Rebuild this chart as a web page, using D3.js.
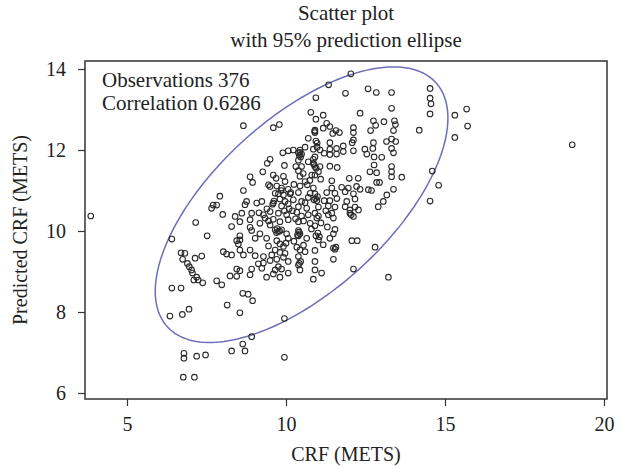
<!DOCTYPE html>
<html><head><meta charset="utf-8">
<script src="https://cdn.jsdelivr.net/npm/d3@7"></script>
<style>body{margin:0;background:#fff}svg{display:block}text{font-family:"Liberation Serif","Times New Roman",serif;fill:#222}</style>
</head><body><svg id="c" width="621" height="468"></svg>
<script>
const titleLines = ["Scatter plot", "with 95% prediction ellipse"];
const legendLines = ["Observations 376", "Correlation 0.6286"];
const xLabel = "CRF (METS)";
const yLabel = "Predicted CRF (METS)";
const xTicks = [5, 10, 15, 20];
const yTicks = [6, 8, 10, 12, 14];
const ellipseCenter = [10.49, 10.65];
const ellipseSD = [1.88, 1.39];
const correlation = 0.6286;
const observations = [
[12.04,13.88],[11.34,13.61],[10.94,13.29],[11.87,13.40],[12.58,13.51],[12.84,13.42],[13.32,13.42],[13.32,13.03],[12.33,12.91],[10.78,12.93],
[11.17,12.86],[10.94,12.76],[8.66,12.60],[9.60,12.55],[9.79,12.63],[11.28,12.66],[11.38,12.58],[11.57,12.48],[11.68,12.43],[10.91,12.49],
[10.91,12.43],[11.17,12.54],[11.47,12.41],[12.12,12.55],[12.12,12.43],[12.75,12.72],[12.82,12.61],[12.66,12.48],[13.08,12.70],[13.41,12.72],
[13.44,12.63],[13.38,12.48],[14.19,12.49],[13.32,12.27],[13.45,12.21],[13.16,12.21],[13.32,12.04],[13.38,11.93],[12.75,12.18],[12.48,12.02],
[12.73,12.04],[12.54,11.90],[12.77,11.83],[13.01,11.82],[12.12,12.25],[12.08,12.18],[12.12,11.98],[11.80,12.10],[11.80,11.96],[11.38,12.18],
[11.38,12.02],[11.38,11.89],[11.59,12.04],[11.59,11.90],[11.20,11.92],[11.07,12.00],[10.94,12.22],[10.98,12.17],[10.98,12.07],[10.86,12.02],
[10.91,11.83],[10.70,12.29],[10.60,12.07],[10.44,12.00],[10.39,11.93],[10.49,11.90],[10.46,11.83],[10.39,11.75],[10.23,12.00],[10.07,11.98],
[9.90,11.93],[9.50,11.77],[9.41,11.67],[9.27,11.46],[9.95,11.62],[10.31,11.59],[10.39,11.49],[10.49,11.59],[10.54,11.42],[10.70,11.71],
[10.86,11.77],[10.86,11.67],[10.91,11.59],[11.07,11.59],[11.02,11.46],[10.81,11.38],[10.91,11.38],[11.38,11.60],[11.61,11.57],[11.99,11.30],
[12.27,11.30],[12.77,11.63],[12.64,11.46],[13.32,11.59],[13.32,11.46],[13.32,11.34],[13.64,11.33],[8.87,11.34],[9.60,11.38],[9.69,11.30],
[14.53,13.52],[14.53,13.28],[14.56,13.14],[14.53,12.89],[15.31,12.86],[15.68,13.01],[15.71,12.59],[15.31,12.31],[19.00,12.13],[14.60,11.48],
[14.80,11.13],[14.53,10.74],
[3.86,10.37],[7.92,10.86],[7.71,10.64],[7.66,10.56],[7.82,10.64],[8.01,10.41],[7.16,10.21],[7.52,9.88],[6.41,9.80],[6.70,9.46],
[6.82,9.45],[6.75,9.30],[7.14,9.33],[7.35,9.38],[8.03,9.49],[8.13,9.43],[6.90,9.20],[6.96,9.12],[7.03,9.04],[7.06,8.96],
[7.19,8.86],[7.10,8.79],[7.24,8.79],[7.38,8.72],[7.82,8.77],[7.98,8.67],[6.41,8.59],[6.70,8.59],
[8.64,8.46],[8.81,8.44],[8.15,8.17],[8.55,7.98],[6.35,7.90],[6.74,7.94],[6.95,8.07],[6.79,6.98],[6.79,6.86],[7.19,6.91],
[7.47,6.94],[8.29,7.04],[8.64,7.21],[8.71,7.04],[6.77,6.39],[7.12,6.39],
[8.95,8.28],[9.95,7.84],[8.92,7.39],[9.95,6.88],
[12.85,11.44],[9.92,11.35],[10.44,11.35],[8.95,11.20],[9.97,11.22],[10.60,11.22],[11.09,11.28],[11.44,11.24],[12.85,11.20],[12.94,11.20],[9.45,11.14],
[8.66,11.00],[9.50,11.10],[9.71,11.11],[9.86,11.06],[10.07,11.03],[10.44,11.11],[10.67,11.14],[10.86,11.06],[11.44,11.06],[11.75,11.08],
[11.96,11.06],[12.22,11.10],[12.33,11.03],[12.59,11.02],[12.69,11.00],[13.38,11.03],
[9.66,10.93],[9.76,10.92],[9.92,10.89],[10.13,10.92],[10.39,10.95],[10.76,10.93],[10.91,10.92],[10.99,10.85],[11.28,10.95],[11.54,10.93],
[11.86,10.97],[12.12,10.92],[12.17,10.79],[13.17,10.89],
[8.76,10.73],[9.24,10.73],[9.08,10.69],[9.81,10.79],[9.97,10.73],[10.23,10.77],[10.49,10.73],[10.70,10.83],[10.97,10.75],[11.38,10.75],
[11.91,10.73],[13.06,10.73],[12.90,10.60],
[8.71,10.65],[9.60,10.69],[9.86,10.62],[10.07,10.67],[10.39,10.60],[10.65,10.56],[11.02,10.59],[11.33,10.62],[11.54,10.59],[11.86,10.60],
[12.01,10.52],[12.17,10.59],[12.28,10.52],
[8.40,10.36],[8.61,10.44],[8.92,10.44],[9.29,10.40],[9.50,10.48],[9.76,10.44],[10.02,10.40],[10.34,10.46],[10.49,10.37],[10.91,10.44],
[11.02,10.37],[11.33,10.40],[11.44,10.44],[12.12,10.36],[12.01,10.44],
[8.55,10.23],[8.87,10.28],[9.18,10.19],[9.34,10.32],[9.60,10.29],[9.81,10.23],[10.07,10.28],[10.39,10.23],[10.76,10.19],[10.97,10.32],[11.49,10.32],
[8.29,10.11],[8.87,10.09],[8.92,10.01],[9.50,10.15],[9.66,10.03],[9.76,9.99],[9.86,10.03],[10.39,10.01],[10.44,9.93],[10.91,10.13],[11.54,10.04],
[8.55,9.88],[9.18,9.93],[10.02,9.93],[10.39,9.88],[10.65,9.82],[10.94,9.88],[11.05,9.86],[11.38,9.82],[11.49,9.93],[12.07,9.76],[12.24,9.76],
[8.45,9.76],[8.50,9.68],[8.55,9.78],[9.03,9.82],[9.39,9.82],[9.71,9.76],[9.81,9.68],[10.07,9.82],[11.02,9.78],[11.17,9.66],[11.49,9.58],[11.54,9.55],[12.80,9.60],
[8.55,9.53],[8.87,9.53],[9.45,9.63],[9.66,9.53],[9.92,9.62],[10.34,9.60],[10.44,9.53],[10.60,9.49],[10.91,9.52],[9.81,9.47],
[8.29,9.41],[8.66,9.41],[9.03,9.39],[9.29,9.37],[9.55,9.41],[9.97,9.45],[9.92,9.35],[10.39,9.37],[11.49,9.30],
[9.13,9.19],[9.29,9.21],[9.50,9.27],[9.71,9.30],[10.07,9.25],[10.39,9.16],[10.46,9.25],[10.91,9.25],[9.76,9.12],
[8.45,9.06],[8.55,9.02],[8.92,9.06],[9.24,9.08],[9.66,9.04],[9.86,9.06],[10.44,9.04],[10.91,9.04],[12.12,9.06],
[8.24,8.89],[8.45,8.88],[8.87,8.92],[9.39,8.86],[9.60,8.94],[9.81,8.86],[10.07,8.96],[10.86,8.81],[11.12,8.96],[13.22,8.86],
[9.72,10.06],[9.80,10.00],[9.70,9.96],[10.41,9.97],[10.36,9.90],[10.93,10.80],[10.88,10.77],[11.57,9.60],[10.42,9.20],[9.62,10.74],
[9.58,10.66],[12.05,10.40],[10.44,11.94],[10.42,11.87],[10.90,12.46],[10.88,11.64],[10.95,11.55],[10.10,10.55],[10.20,10.50],[10.30,10.30],
[10.55,10.25],[10.60,10.70],[10.70,10.40],[10.15,10.95],[9.95,10.50],[10.80,10.05],[11.10,10.20],[11.25,10.50],[11.20,10.75],[9.45,10.25],
[9.40,10.55],[10.00,9.70],[10.25,9.75],[10.55,9.65],[11.00,9.95],[11.30,10.10],[9.85,11.00],[10.25,11.15],[10.75,11.25],[11.60,10.80],[9.15,10.45]
];

const svg = d3.select("#c");
const frame = {left: 85, right: 607, top: 61, bottom: 399};
const x = d3.scaleLinear().domain([5, 20]).range([127, 604]);
const y = d3.scaleLinear().domain([6, 14]).range([393, 69]);

svg.append("g").selectAll("text").data(titleLines).join("text")
  .attr("x", 346).attr("y", (d, i) => 20 + i * 27)
  .attr("text-anchor", "middle").attr("font-size", 21).text(d => d);

const xAxis = svg.append("g").attr("transform", `translate(0,${frame.bottom})`)
  .call(d3.axisBottom(x).tickValues(xTicks).tickSize(7).tickPadding(11).tickFormat(d3.format("d")));
const yAxis = svg.append("g").attr("transform", `translate(${frame.left},0)`)
  .call(d3.axisLeft(y).tickValues(yTicks).tickSize(7).tickPadding(12).tickFormat(d3.format("d")));
[xAxis, yAxis].forEach(a => {
  a.select(".domain").remove();
  a.selectAll(".tick line").attr("stroke", "#333").attr("stroke-width", 1.2);
  a.selectAll(".tick text").attr("font-size", 20).attr("fill", "#222")
    .style("font-family", '"Liberation Serif","Times New Roman",serif');
});
yAxis.selectAll(".tick text").attr("dy", "0.33em");

svg.append("rect").attr("x", frame.left).attr("y", frame.top)
  .attr("width", frame.right - frame.left).attr("height", frame.bottom - frame.top)
  .attr("fill", "none").attr("stroke", "#333").attr("stroke-width", 1.5);

const k = Math.sqrt(5.991);
const ts = d3.range(0, 361, 2).map(d => d * Math.PI / 180);
const ellPts = ts.map(t => [
  ellipseCenter[0] + k * ellipseSD[0] * Math.cos(t),
  ellipseCenter[1] + k * ellipseSD[1] * (correlation * Math.cos(t) + Math.sqrt(1 - correlation * correlation) * Math.sin(t))
]);
svg.append("path").datum(ellPts)
  .attr("d", d3.line().x(d => x(d[0])).y(d => y(d[1])).curve(d3.curveLinearClosed))
  .attr("fill", "none").attr("stroke", "#6d6dbb").attr("stroke-width", 1.5);

svg.append("g").selectAll("circle").data(observations).join("circle")
  .attr("cx", d => x(d[0])).attr("cy", d => y(d[1])).attr("r", 2.8)
  .attr("fill", "none").attr("stroke", "#2a2a2a").attr("stroke-width", 1.1);

svg.append("g").selectAll("text").data(legendLines).join("text")
  .attr("x", 102).attr("y", (d, i) => 87 + i * 23)
  .attr("font-size", 21).text(d => d);

svg.append("text").attr("x", 346).attr("y", 461).attr("text-anchor", "middle")
  .attr("font-size", 20).text(xLabel);
svg.append("text").attr("transform", "translate(27,230) rotate(-90)")
  .attr("text-anchor", "middle").attr("font-size", 20).text(yLabel);
</script></body></html>
